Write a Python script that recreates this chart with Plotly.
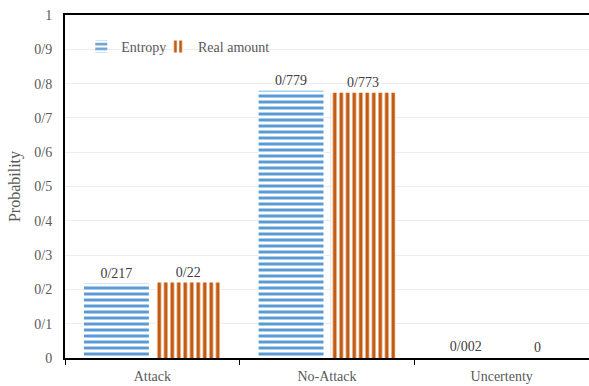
import plotly.graph_objects as go

categories = ["Attack", "No-Attack", "Uncertenty"]
entropy = [0.217, 0.779, 0.002]
real_amount = [0.22, 0.773, 0.0]
y_ticks = [0, 0.1, 0.2, 0.3, 0.4, 0.5, 0.6, 0.7, 0.8, 0.9, 1]


def slash(v):
    # values are written with "/" as the decimal separator
    return f"{v:g}".replace(".", "/")


FONT = "Liberation Serif"
BLUE = "#5B9BD5"
ORANGE = "#C55A11"
TEXT = "#595959"

fig = go.Figure()
fig.add_trace(go.Bar(
    name="Entropy", x=categories, y=entropy,
    text=[slash(v) for v in entropy], textposition="outside",
    textfont=dict(family=FONT, size=14, color="#404040"),
    marker=dict(color="white", line=dict(width=0),
                pattern=dict(shape="-", fgcolor=BLUE, bgcolor="white",
                             size=6, solidity=0.5, fillmode="replace")),
    cliponaxis=False, legend="legend",
))
fig.add_trace(go.Bar(
    name="Real amount", x=categories, y=real_amount,
    text=[slash(v) for v in real_amount], textposition="outside",
    textfont=dict(family=FONT, size=14, color="#404040"),
    marker=dict(color="white", line=dict(width=0),
                pattern=dict(shape="|", fgcolor=ORANGE, bgcolor="white",
                             size=6.5, solidity=0.55, fillmode="replace")),
    cliponaxis=False, legend="legend2",
))

legend_style = dict(orientation="h", y=0.907, xanchor="left", yanchor="middle",
                    bgcolor="rgba(0,0,0,0)", itemwidth=30,
                    font=dict(family=FONT, size=14, color=TEXT))

fig.update_layout(
    width=589, height=386,
    margin=dict(l=65, r=0, t=15, b=28),
    paper_bgcolor="white", plot_bgcolor="white",
    font=dict(family=FONT, size=14, color=TEXT),
    barmode="group", bargap=0.177, bargroupgap=0.097,
    showlegend=True,
    legend=dict(x=0.031, **legend_style),
    legend2=dict(x=0.1775, **legend_style),
)
fig.update_xaxes(
    type="category", showline=True, linecolor="black", linewidth=2, mirror=True,
    ticks="outside", tickson="boundaries", ticklen=5, tickcolor="black",
    showgrid=False, ticklabelstandoff=4,
    tickfont=dict(family=FONT, size=14, color=TEXT),
)
fig.update_yaxes(
    range=[0, 1], tickvals=y_ticks, ticktext=[slash(v) for v in y_ticks],
    showline=True, linecolor="black", linewidth=2,
    showgrid=True, gridcolor="#EDEDED", gridwidth=1, zeroline=False,
    ticks="", ticklabelstandoff=8,
    tickfont=dict(family=FONT, size=14, color=TEXT),
    title=dict(text="Probability", font=dict(family=FONT, size=16, color=TEXT), standoff=10),
)

fig.write_html("out.html")
